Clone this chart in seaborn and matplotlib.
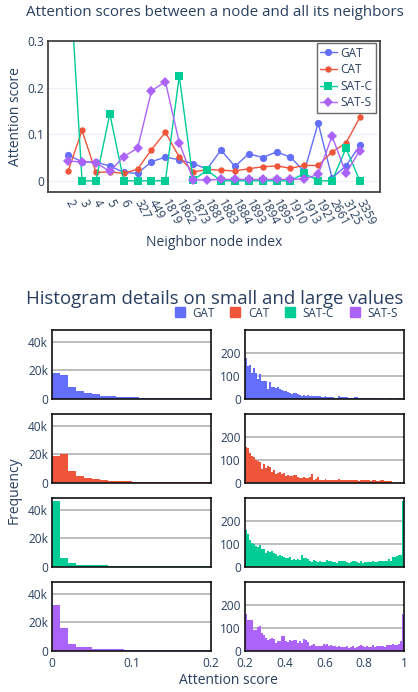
import numpy as np
import pandas as pd
import matplotlib
matplotlib.use("Agg")
import matplotlib.pyplot as plt
import seaborn as sns
from matplotlib.lines import Line2D
from matplotlib.ticker import FuncFormatter

# ---- top chart: attention scores of one node vs. its neighbours ----
nodes = ['2', '3', '4', '5', '6', '327', '449', '1819', '1862', '1873', '1881',
         '1883', '1884', '1893', '1894', '1895', '1910', '1913', '1921', '2661',
         '3125', '3359']
gat = [0.055, 0.041, 0.040, 0.032, 0.018, 0.016, 0.041, 0.051, 0.045, 0.037, 0.025,
       0.066, 0.031, 0.058, 0.050, 0.062, 0.051, 0.020, 0.124, 0.006, 0.032, 0.076]
cat = [0.021, 0.108, 0.018, 0.019, 0.016, 0.025, 0.067, 0.104, 0.051, 0.019, 0.024,
       0.023, 0.021, 0.026, 0.030, 0.032, 0.027, 0.033, 0.033, 0.062, 0.081, 0.136]
sat_c = [0.50, 0.0, 0.0, 0.144, 0.0, 0.0, 0.0, 0.0, 0.225, 0.001, 0.023,
         0.0, 0.0, 0.0, 0.0, 0.0, 0.0, 0.016, 0.0, 0.0, 0.070, 0.0]
sat_s = [0.042, 0.041, 0.039, 0.020, 0.052, 0.070, 0.193, 0.213, 0.082, 0.002, 0.002,
         0.003, 0.003, 0.003, 0.003, 0.003, 0.003, 0.004, 0.014, 0.096, 0.016, 0.065]

models = ['GAT', 'CAT', 'SAT-C', 'SAT-S']
colors = ['#636efa', '#EF553B', '#00cc96', '#ab63fa']
markers = ['o', 'o', 's', 'D']

# ---- histogram bin counts, small values (0 - 0.2, 20 bins) ----
gat_small = [18400, 16900, 8500, 5600, 4200, 3300, 2100, 2100, 1400, 1400,
             1400, 700, 650, 600, 550, 500, 450, 450, 400, 400]
cat_small = [19000, 20500, 8400, 4600, 3100, 2400, 1700, 1200, 1200, 1200,
             500, 450, 450, 400, 400, 400, 350, 350, 350, 300]
satc_small = [46300, 6300, 2700, 1400, 800, 800, 800, 300, 280, 260,
              250, 240, 230, 220, 210, 200, 200, 190, 180, 180]
sats_small = [32500, 15900, 4300, 2200, 2200, 1400, 1400, 800, 800, 600,
              600, 600, 300, 300, 300, 250, 250, 250, 200, 200]

# ---- histogram bin counts, large values (0.2 - 1, 80 bins) ----
gat_large = [178, 143, 146, 113, 133, 110, 86, 107, 74, 74,
             77, 42, 71, 51, 48, 45, 48, 42, 36, 33,
             33, 28, 25, 19, 22, 25, 20, 16, 13, 16,
             13, 16, 12, 11, 10, 11, 9, 9, 8, 7,
             10, 7, 6, 5, 6, 4, 4, 9, 6, 5,
             5, 6, 3, 3, 3, 6, 6, 3, 2, 2,
             3, 2, 2, 2, 2, 2, 1, 1, 0, 2,
             0, 0, 1, 2, 0, 0, 1, 2, 1, 0]
cat_large = [156, 152, 130, 115, 110, 98, 93, 90, 58, 80,
             61, 72, 66, 47, 54, 39, 42, 47, 39, 42,
             28, 32, 28, 30, 32, 31, 25, 20, 20, 22,
             19, 20, 23, 36, 12, 15, 23, 13, 12, 12,
             15, 12, 12, 12, 12, 12, 13, 15, 11, 10,
             11, 10, 11, 10, 10, 10, 12, 8, 11, 12,
             10, 10, 11, 8, 9, 12, 7, 8, 10, 9,
             7, 7, 7, 7, 0, 0, 0, 0, 0, 0]
satc_large = [160, 140, 115, 103, 100, 88, 85, 93, 75, 75,
              60, 66, 63, 69, 59, 53, 46, 48, 44, 41,
              38, 35, 40, 29, 34, 28, 32, 29, 48, 35,
              35, 31, 24, 21, 29, 22, 19, 22, 19, 21,
              21, 29, 25, 22, 21, 19, 16, 22, 24, 24,
              24, 18, 15, 21, 24, 24, 19, 16, 22, 15,
              18, 19, 19, 21, 26, 19, 18, 24, 24, 24,
              24, 25, 32, 26, 41, 41, 46, 50, 52, 284]
sats_large = [160, 134, 134, 134, 91, 91, 101, 108, 77, 69,
              56, 46, 50, 53, 49, 33, 43, 40, 61, 61,
              43, 37, 44, 40, 44, 44, 34, 40, 33, 49,
              47, 39, 20, 24, 27, 20, 21, 21, 21, 27,
              24, 27, 20, 23, 19, 20, 17, 19, 17, 17,
              17, 21, 13, 16, 20, 11, 14, 19, 23, 19,
              16, 19, 16, 16, 23, 17, 19, 21, 19, 20,
              17, 24, 23, 26, 27, 23, 26, 30, 40, 157]

small_range = (0.0, 0.2)
large_range = (0.2, 1.0)

TXT = '#2a3f5f'
W, H = 418, 692

sns.set_theme(style='white')
plt.rcParams['font.family'] = ['Open Sans', 'DejaVu Sans']
plt.rcParams['text.color'] = TXT
plt.rcParams['axes.labelcolor'] = TXT
plt.rcParams['xtick.color'] = TXT
plt.rcParams['ytick.color'] = TXT


def rect(l, t, r, b):
    return [l / W, 1 - b / H, (r - l) / W, (b - t) / H]


fig = plt.figure(figsize=(W / 100, H / 100), dpi=100)

# ================= top line chart =================
ax = fig.add_axes(rect(48, 41, 380, 192))
pos = np.arange(len(nodes))
df = pd.DataFrame({'pos': pos, 'GAT': gat, 'CAT': cat, 'SAT-C': sat_c, 'SAT-S': sat_s})
msizes = [5.2, 4.6, 5.4, 5.6]
for m, c, mk, ms in zip(models, colors, markers, msizes):
    sns.lineplot(data=df, x='pos', y=m, color=c, marker=mk, markersize=ms,
                 markeredgewidth=0, linewidth=1, ax=ax, label=m)

ax.set_xlim(-1.45, 22.45)
ax.set_ylim(-0.024, 0.3)
ax.set_yticks([0, 0.1, 0.2, 0.3])
ax.set_yticklabels(['0', '0.1', '0.2', '0.3'])
ax.set_xticks(pos)
ax.set_xticklabels(nodes, rotation=-62, ha='left', va='center', rotation_mode='anchor')
ax.tick_params(axis='both', length=0, labelsize=8.6)
ax.tick_params(axis='x', pad=6)
ax.tick_params(axis='y', pad=3)
ax.yaxis.grid(True, color='#ebf0f8', linewidth=1)
ax.set_axisbelow(True)
for s in ax.spines.values():
    s.set_color('#444444')
    s.set_linewidth(1.3)
ax.set_xlabel('Neighbor node index', fontsize=10, labelpad=5)
ax.set_ylabel('Attention score', fontsize=10, labelpad=3)
ax.get_legend().remove()
handles = [Line2D([], [], color=c, marker=mk, markersize=ms, markeredgewidth=0, linewidth=1)
           for c, mk, ms in zip(colors, markers, msizes)]
leg = ax.legend(handles, models, loc='upper right', bbox_to_anchor=(0.988, 0.987),
                fontsize=8.6, frameon=True, fancybox=False, handlelength=1.4,
                handletextpad=0.3, labelspacing=0.3, borderpad=0.3, borderaxespad=0)
leg.get_frame().set_edgecolor('#444444')
leg.get_frame().set_linewidth(1)
fig.text(26 / W, 1 - 12 / H, 'Attention scores between a node and all its neighbors',
         fontsize=10.9, ha='left', va='center', color=TXT)

# ================= histogram grid =================
small = [gat_small, cat_small, satc_small, sats_small]
large = [gat_large, cat_large, satc_large, sats_large]
tops = [330, 414, 498, 582]
kfmt = FuncFormatter(lambda v, p: '0' if v == 0 else f'{int(v / 1000)}k')

for i in range(4):
    t, b = tops[i], tops[i] + 68.5
    for j, (counts, rng, (l, r)) in enumerate([(small[i], small_range, (52, 211)),
                                               (large[i], large_range, (245, 404))]):
        hx = fig.add_axes(rect(l, t, r, b))
        nb = len(counts)
        edges = np.linspace(rng[0], rng[1], nb + 1)
        hdf = pd.DataFrame({'score': (edges[:-1] + edges[1:]) / 2, 'count': counts})
        sns.histplot(data=hdf, x='score', weights='count', bins=nb, binrange=rng,
                     color=colors[i], alpha=1, linewidth=0, ax=hx)
        hx.set_xlim(*rng)
        if j == 0:
            hx.set_ylim(0, 48700)
            hx.set_yticks([0, 20000, 40000])
            hx.yaxis.set_major_formatter(kfmt)
        else:
            hx.set_ylim(0, 298)
            hx.set_yticks([0, 100, 200])
        if i == 3:
            if j == 0:
                hx.set_xticks([0, 0.1, 0.2])
                hx.set_xticklabels(['0', '0.1', '0.2'])
            else:
                hx.set_xticks([0.2, 0.4, 0.6, 0.8, 1.0])
                hx.set_xticklabels(['0.2', '0.4', '0.6', '0.8', '1'])
        else:
            hx.set_xticks([])
        hx.tick_params(axis='y', length=0, labelsize=8.6, pad=3)
        hx.tick_params(axis='x', length=0, labelsize=8.6, pad=5)
        hx.yaxis.grid(True, color='#b8b8b8', linewidth=1.3)
        hx.set_axisbelow(True)
        hx.set_xlabel('')
        hx.set_ylabel('')
        for s in hx.spines.values():
            s.set_color('#111111')
            s.set_linewidth(1.2)

fig.text(26 / W, 1 - 299 / H, 'Histogram details on small and large values',
         fontsize=13.4, ha='left', va='center', color=TXT)
fig.text(14 / W, 1 - 490 / H, 'Frequency', rotation=90, fontsize=10,
         ha='center', va='center', color=TXT)
fig.text(228 / W, 1 - 681 / H, 'Attention score', fontsize=10,
         ha='center', va='center', color=TXT)

sq = [Line2D([], [], color=c, marker='s', markersize=7, linestyle='') for c in colors]
fig.legend(sq, models, loc='center left', bbox_to_anchor=(174 / W, 1 - 313 / H),
           ncol=4, frameon=False, fontsize=8.4, handlelength=1.0, handletextpad=0.6,
           columnspacing=1.25, borderpad=0, borderaxespad=0)

fig.savefig('out.png', dpi=100)
